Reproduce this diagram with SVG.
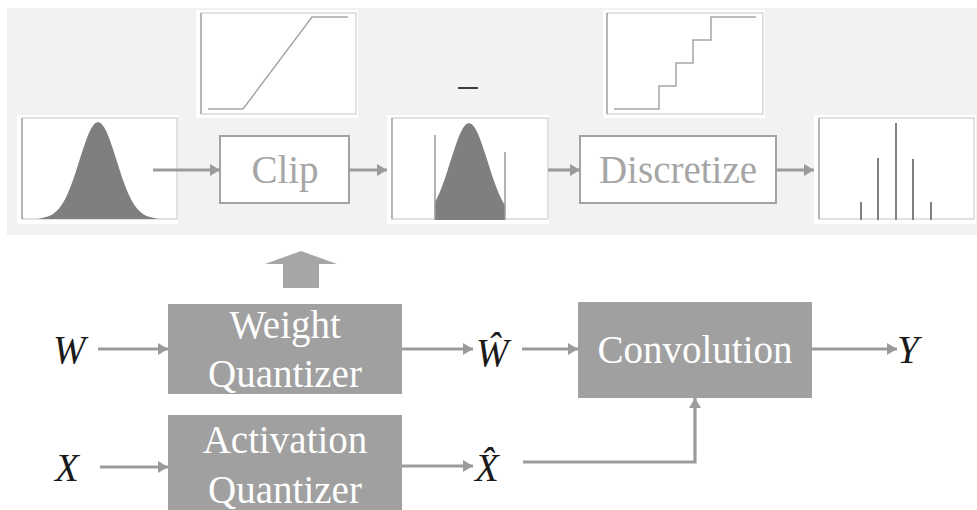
<svg xmlns="http://www.w3.org/2000/svg" xmlns:xlink="http://www.w3.org/1999/xlink" width="977" height="510" viewBox="0 0 977 510">
<style>
.frame{fill:#ffffff}
.plot{fill:none;stroke:#c4c4c4;stroke-width:1}
.axis{fill:none;stroke:#9a9a9a;stroke-width:1.2}
.curve{fill:none;stroke:#a6a6a6;stroke-width:1.5}
.bell{fill:#7f7f7f}
.obox{fill:#ffffff;stroke:#a3a3a3;stroke-width:2}
.otext{font-family:'Liberation Serif','Tinos','DejaVu Serif','Noto Serif','Times New Roman',serif;font-size:39px;fill:#a6a6a6;text-anchor:middle}
.fbox{fill:#a0a0a0}
.ftext{font-family:'Liberation Serif','Tinos','DejaVu Serif','Noto Serif','Times New Roman',serif;font-size:39px;fill:#ffffff;text-anchor:middle}
.var{font-family:'Liberation Serif','Tinos','DejaVu Serif','Noto Serif','Times New Roman',serif;font-size:39px;font-style:italic;fill:#1a1a1a}
.conn{fill:none;stroke:#9b9b9b;stroke-width:3.2}
.bar{stroke:#7f7f7f;stroke-width:2}
</style>
<defs>
<marker id="ah" viewBox="0 0 10 12" refX="10" refY="6" markerWidth="10" markerHeight="12" markerUnits="userSpaceOnUse" orient="auto">
<path d="M0,0 L10,6 L0,12 z" fill="#9b9b9b"/>
</marker>
<path id="bell" d="M38,219 L41,218.2 L44,217.6 L47,216.8 L50,215.7 L53,214 L56,211.6 L59,208.5 L62,204.4 L65,199.2 L68,193 L71,185.6 L74,177.2 L77,168.1 L80,158.6 L83,149.2 L86,140.4 L89,132.8 L92,127 L95,123.3 L98,122 L101,123.3 L104,127 L107,132.8 L110,140.4 L113,149.2 L116,158.6 L119,168.1 L122,177.2 L125,185.6 L128,193 L131,199.2 L134,204.4 L137,208.5 L140,211.6 L143,214 L146,215.7 L149,216.8 L152,217.6 L155,218.2 L158,219 Z"/>
<clipPath id="clip2"><rect x="435" y="100" width="70" height="130"/></clipPath>
</defs>

<rect x="7" y="8" width="970" height="227" fill="#f2f2f2"/>

<g id="hist-input">
<rect class="frame" x="17" y="115" width="161" height="109"/>
<rect class="plot" x="22" y="118" width="155" height="101"/>
<path class="axis" d="M22,118 V219"/>
<use xlink:href="#bell" class="bell"/>
</g>

<g id="clip-curve">
<rect class="frame" x="196" y="10" width="162" height="108"/>
<rect class="plot" x="201" y="13" width="155" height="101"/>
<path class="axis" d="M201,13 V114"/>
<polyline class="curve" points="208,109 243,109 312,17 348,17"/>
</g>

<g id="clip-node">
<rect class="obox" x="220" y="136" width="129" height="67"/>
<text class="otext" x="285" y="183">Clip</text>
</g>

<g id="hist-clipped">
<rect class="frame" x="387" y="115" width="162" height="109"/>
<rect class="plot" x="392" y="118" width="156" height="101"/>
<path class="axis" d="M392,118 V219"/>
<g clip-path="url(#clip2)"><use xlink:href="#bell" class="bell" transform="translate(371,1)"/></g>
<line x1="435" y1="135" x2="435" y2="220" stroke="#9a9a9a" stroke-width="1.5"/>
<line x1="505" y1="152" x2="505" y2="220" stroke="#9a9a9a" stroke-width="1.5"/>
</g>

<g id="bar-mark">
<line x1="458" y1="88" x2="478" y2="88" stroke="#111111" stroke-width="1.6"/>
</g>

<g id="step-curve">
<rect class="frame" x="603" y="10" width="162" height="108"/>
<rect class="plot" x="607" y="13" width="156" height="101"/>
<path class="axis" d="M607,13 V114"/>
<polyline class="curve" points="614,109 659,109 659,86 676,86 676,63 693,63 693,40 711,40 711,17 756,17"/>
</g>

<g id="discretize-node">
<rect class="obox" x="580" y="136" width="196" height="67"/>
<text class="otext" x="678" y="183">Discretize</text>
</g>

<g id="hist-discrete">
<rect class="frame" x="814" y="115" width="162" height="109"/>
<rect class="plot" x="819" y="118" width="155" height="101"/>
<path class="axis" d="M819,118 V219"/>
<line class="bar" x1="861" y1="202" x2="861" y2="220"/>
<line class="bar" x1="878" y1="158" x2="878" y2="220"/>
<line class="bar" x1="896" y1="123" x2="896" y2="220"/>
<line class="bar" x1="913" y1="159" x2="913" y2="220"/>
<line class="bar" x1="931" y1="202" x2="931" y2="220"/>
</g>

<g id="expand-arrow">
<polygon points="301,251 337,264 319,264 319,288 283,288 283,264 265,264" fill="#a6a6a6"/>
</g>

<g id="weight-quantizer">
<rect class="fbox" x="168" y="304" width="234" height="90"/>
<text class="ftext" x="285" y="338">Weight</text>
<text class="ftext" x="285" y="387">Quantizer</text>
</g>

<g id="activation-quantizer">
<rect class="fbox" x="168" y="415" width="234" height="100"/>
<text class="ftext" x="285" y="453">Activation</text>
<text class="ftext" x="285" y="503">Quantizer</text>
</g>

<g id="convolution">
<rect class="fbox" x="578" y="302" width="234" height="96"/>
<text class="ftext" x="695" y="363">Convolution</text>
</g>

<g id="labels">
<text class="var" x="53" y="363">W</text>
<text class="var" x="55" y="481">X</text>
<text class="var" x="476" y="366">Ŵ</text>
<text class="var" x="475" y="481">X̂</text>
<text class="var" x="897" y="363">Y</text>
</g>

<g id="connectors">
<line class="conn" x1="153" y1="170" x2="220" y2="170" marker-end="url(#ah)"/>
<line class="conn" x1="349" y1="170" x2="387" y2="170" marker-end="url(#ah)"/>
<line class="conn" x1="548" y1="170" x2="580" y2="170" marker-end="url(#ah)"/>
<line class="conn" x1="776" y1="170" x2="814" y2="170" marker-end="url(#ah)"/>
<line class="conn" x1="98" y1="349" x2="168" y2="349" marker-end="url(#ah)"/>
<line class="conn" x1="100" y1="467" x2="168" y2="467" marker-end="url(#ah)"/>
<line class="conn" x1="402" y1="349" x2="473" y2="349" marker-end="url(#ah)"/>
<line class="conn" x1="402" y1="466" x2="473" y2="466" marker-end="url(#ah)"/>
<line class="conn" x1="522" y1="349" x2="578" y2="349" marker-end="url(#ah)"/>
<line class="conn" x1="812" y1="349" x2="897" y2="349" marker-end="url(#ah)"/>
<path class="conn" d="M523,462 H695 V398" marker-end="url(#ah)"/>
</g>
</svg>
